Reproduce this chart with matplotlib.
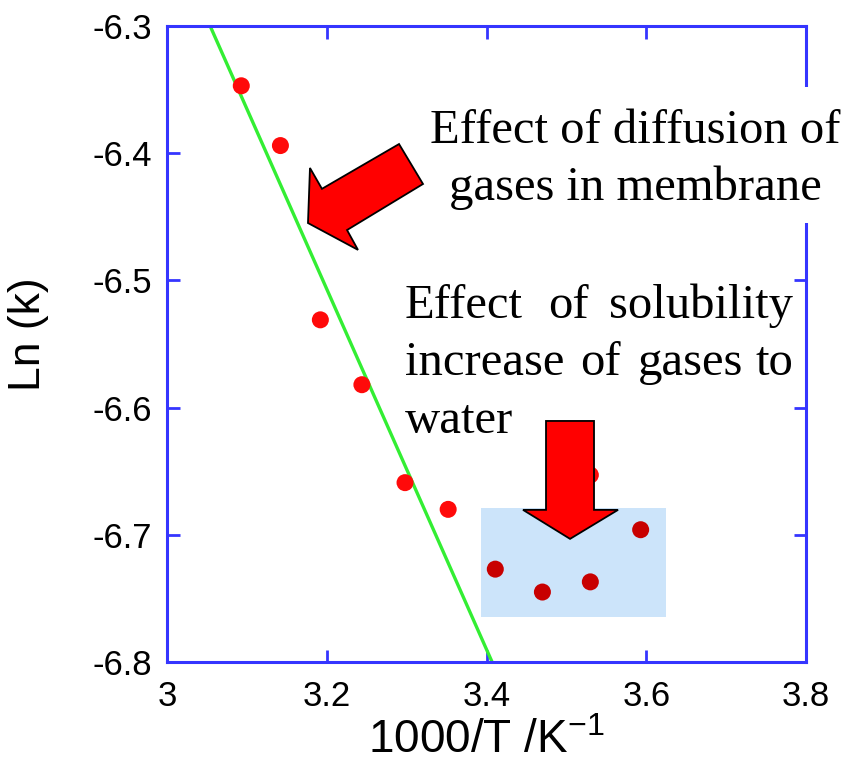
import numpy as np
import matplotlib
matplotlib.use("Agg")
import matplotlib.pyplot as plt
from matplotlib.patches import Polygon, Rectangle

# measured ln(k) vs 1000/T
inv_temp = [3.093, 3.142, 3.192, 3.244, 3.298, 3.352, 3.411, 3.470, 3.530, 3.593, 3.530]
ln_k = [-6.347, -6.394, -6.531, -6.582, -6.659, -6.680, -6.727, -6.745, -6.737, -6.696, -6.653]

# Arrhenius fit line (end points)
fit_x = [3.054, 3.407]
fit_y = [-6.30, -6.80]

# highlighted low-temperature region
box_x = [3.393, 3.625]
box_y = [-6.765, -6.679]

x_ticks = [3, 3.2, 3.4, 3.6, 3.8]
x_ticklabels = ["3", "3.2", "3.4", "3.6", "3.8"]
y_ticks = [-6.8, -6.7, -6.6, -6.5, -6.4, -6.3]
y_ticklabels = ["-6.8", "-6.7", "-6.6", "-6.5", "-6.4", "-6.3"]

# block arrows, vertices in data units
arrow_diff = [(3.1765, -6.4549), (3.179, -6.4116), (3.194, -6.428), (3.2905, -6.3928),
              (3.3205, -6.4242), (3.2254, -6.4604), (3.2391, -6.476)]
arrow_sol = [(3.4745, -6.6105), (3.5346, -6.6105), (3.5346, -6.6804), (3.5647, -6.6804),
             (3.5046, -6.7032), (3.4457, -6.6804), (3.4745, -6.6804)]

plt.rcParams["axes.unicode_minus"] = False
plt.rcParams["font.family"] = ["Liberation Sans", "DejaVu Sans"]
plt.rcParams["mathtext.default"] = "regular"

W, H = 856, 771
fig = plt.figure(figsize=(W / 100, H / 100), dpi=100)
ax = fig.add_axes([167 / W, 1 - 662 / H, (806 - 167) / W, (662 - 26) / H])

spine_col = "#3535ff"
for s in ax.spines.values():
    s.set_color(spine_col)
    s.set_linewidth(2.2)

ax.add_patch(Rectangle((box_x[0], box_y[0]), box_x[1] - box_x[0], box_y[1] - box_y[0],
                       facecolor="#cce4fa", edgecolor="none", zorder=1))

ax.plot(fit_x, fit_y, color="#33ee33", lw=2.4, zorder=2)

xs = np.array(inv_temp)
ys = np.array(ln_k)
inside = (xs > box_x[0]) & (xs < box_x[1]) & (ys > box_y[0]) & (ys < box_y[1])
cols = np.where(inside, "#c80000", "#ff0a0a")
ax.scatter(xs, ys, s=150, c=list(cols), edgecolors="none", zorder=3)

for verts in (arrow_diff, arrow_sol):
    ax.add_patch(Polygon(verts, closed=True, facecolor="#ff0000", edgecolor="black",
                         lw=1.3, zorder=5))

ax.set_xlim(3, 3.8)
ax.set_ylim(-6.8, -6.3)
ax.set_xticks(x_ticks)
ax.set_xticklabels(x_ticklabels)
ax.set_yticks(y_ticks)
ax.set_yticklabels(y_ticklabels)
ax.tick_params(direction="in", length=9, width=2, color=spine_col,
               top=True, right=True, labelsize=25, pad=11)
ax.tick_params(axis="x", pad=13)

ax.set_xlabel("1000/T /K$^{-1}$", fontsize=33)
ax.set_ylabel("Ln (k)", fontsize=32)
ax.xaxis.set_label_coords(0.5, -0.09)
ax.yaxis.set_label_coords(-0.185, 0.516)

# white patch behind upper annotation (breaks the right spine)
fig.patches.append(Rectangle((428 / W, 1 - 223 / H), (845 - 428) / W, (223 - 87) / H,
                             transform=fig.transFigure, facecolor="white",
                             edgecolor="none", zorder=1))

serif = ["Liberation Serif", "DejaVu Serif"]
def ftext(px, py, s, ha="left"):
    fig.text(px / W, 1 - py / H, s, ha=ha, va="baseline", fontsize=35,
             family=serif, zorder=3)

ftext(635, 143, "Effect of diffusion of", ha="center")
ftext(635, 200, "gases in membrane", ha="center")

ftext(405, 318, "Effect")
ftext(548, 318, "of")
ftext(793, 318, "solubility", ha="right")
ftext(405, 375, "increase")
ftext(580, 375, "of")
ftext(638, 375, "gases")
ftext(793, 375, "to", ha="right")
ftext(405, 433, "water")

fig.savefig("out.png", dpi=100)
